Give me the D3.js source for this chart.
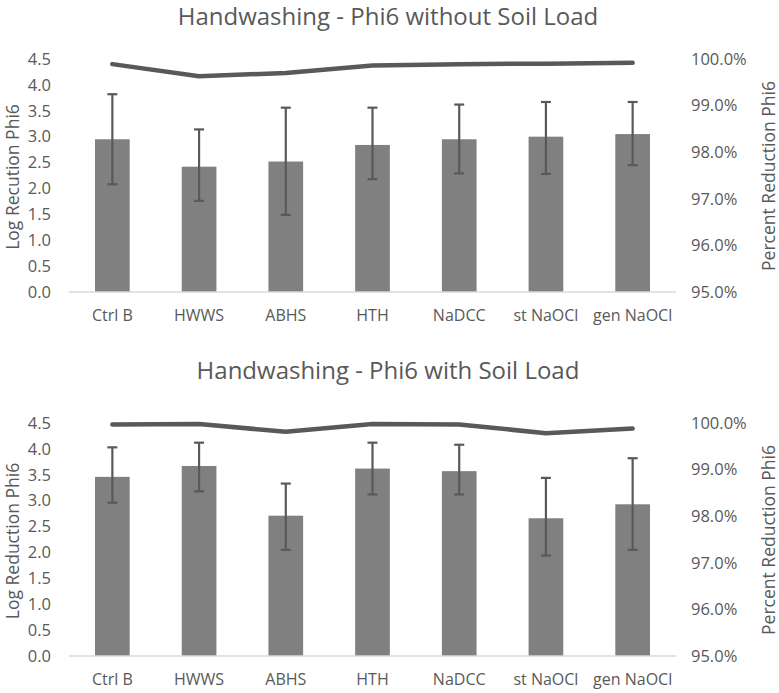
<!DOCTYPE html>
<html><head><meta charset="utf-8">
<script src="https://cdn.jsdelivr.net/npm/d3@7/dist/d3.min.js"></script>
<style>body{margin:0;background:#fff;} text{font-family:"Open Sans",sans-serif;fill:#595959;}</style>
</head><body><svg id="c" width="779" height="693"></svg>
<script>
const categories = ["Ctrl B","HWWS","ABHS","HTH","NaDCC","st NaOCl","gen NaOCl"];
const logTicks = [0,0.5,1,1.5,2,2.5,3,3.5,4,4.5];
const pctTicks = [95,96,97,98,99,100];

// Chart 1: without soil load
const log1 = [2.95,2.42,2.52,2.84,2.95,3.00,3.05];
const errHi1 = [3.82,3.14,3.56,3.56,3.62,3.67,3.67];
const errLo1 = [2.08,1.76,1.49,2.18,2.29,2.28,2.45];
const pct1 = [99.89,99.63,99.70,99.86,99.89,99.90,99.92];

// Chart 2: with soil load
const log2 = [3.46,3.67,2.71,3.62,3.57,2.66,2.93];
const errHi2 = [4.03,4.12,3.33,4.12,4.08,3.44,3.82];
const errLo2 = [2.96,3.18,2.05,3.12,3.12,1.94,2.05];
const pct2 = [99.97,99.98,99.81,99.98,99.97,99.78,99.88];

const svg = d3.select("#c");

function drawChart(top, titleY, title, yLabel, logs, hi, lo, pct) {
  const g = svg.append("g").attr("transform", `translate(0,${top})`);
  const x = d3.scaleBand().domain(categories).range([69,676]).paddingInner(0.6).paddingOuter(0.3);
  const yL = d3.scaleLinear().domain([0,4.5]).range([292,59]);
  const yR = d3.scaleLinear().domain([95,100]).range([292,59]);

  g.append("text").attr("x",388).attr("y",titleY).attr("text-anchor","middle")
    .style("font-size","24px").text(title);

  g.selectAll(".lt").data(logTicks).join("text").attr("class","lt")
    .attr("x",51).attr("y",d=>yL(d)).attr("dy","0.35em").attr("text-anchor","end")
    .style("font-size","16.5px").text(d=>d3.format(".1f")(d));
  g.selectAll(".rt").data(pctTicks).join("text").attr("class","rt")
    .attr("x",691).attr("y",d=>yR(d)).attr("dy","0.35em").attr("text-anchor","start")
    .style("font-size","16.5px").text(d=>d.toFixed(1)+"%");

  g.append("text").attr("transform",`translate(19,177) rotate(-90)`).attr("text-anchor","middle")
    .style("font-size","17.5px").text(yLabel);
  g.append("text").attr("transform",`translate(775,176) rotate(-90)`).attr("text-anchor","middle")
    .style("font-size","17.5px").text("Percent Reduction Phi6");

  g.selectAll(".bar").data(categories).join("rect").attr("class","bar")
    .attr("x",d=>x(d)).attr("width",x.bandwidth())
    .attr("y",(d,i)=>yL(logs[i])).attr("height",(d,i)=>yL(0)-yL(logs[i]))
    .attr("fill","#808080");

  g.append("line").attr("x1",69).attr("x2",676).attr("y1",yL(0)).attr("y2",yL(0))
    .attr("stroke","#d9d9d9").attr("stroke-width",1.5);

  const cx = d => x(d)+x.bandwidth()/2;
  const eb = g.selectAll(".eb").data(categories).join("g").attr("class","eb");
  eb.append("line").attr("x1",cx).attr("x2",cx)
    .attr("y1",(d,i)=>yL(hi[i])).attr("y2",(d,i)=>yL(lo[i])).attr("stroke","#595959").attr("stroke-width",2.2);
  eb.append("line").attr("x1",d=>cx(d)-5).attr("x2",d=>cx(d)+5)
    .attr("y1",(d,i)=>yL(hi[i])).attr("y2",(d,i)=>yL(hi[i])).attr("stroke","#595959").attr("stroke-width",2.2);
  eb.append("line").attr("x1",d=>cx(d)-5).attr("x2",d=>cx(d)+5)
    .attr("y1",(d,i)=>yL(lo[i])).attr("y2",(d,i)=>yL(lo[i])).attr("stroke","#595959").attr("stroke-width",2.2);

  const line = d3.line().x((d,i)=>cx(categories[i])).y(d=>yR(d));
  g.append("path").datum(pct).attr("d",line).attr("fill","none")
    .attr("stroke","#595959").attr("stroke-width",4.5).attr("stroke-linecap","round").attr("stroke-linejoin","round");

  g.selectAll(".cl").data(categories).join("text").attr("class","cl")
    .attr("x",cx).attr("y",315).attr("dy","0.35em").attr("text-anchor","middle")
    .style("font-size","16px").text(d=>d);
}

drawChart(0, 25, "Handwashing - Phi6 without Soil Load", "Log Recution Phi6", log1, errHi1, errLo1, pct1);
drawChart(364, 15, "Handwashing - Phi6 with Soil Load", "Log Reduction Phi6", log2, errHi2, errLo2, pct2);
</script></body></html>
